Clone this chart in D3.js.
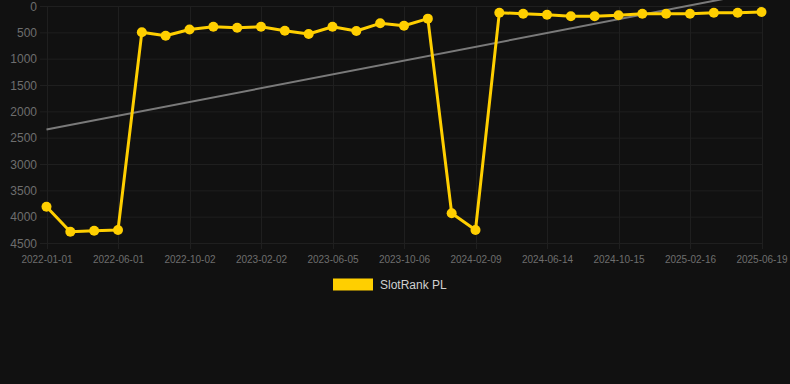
<!DOCTYPE html>
<html><head><meta charset="utf-8">
<script src="https://cdn.jsdelivr.net/npm/d3@7"></script>
<style>html,body{margin:0;padding:0;background:#111111;}svg{display:block;}</style>
</head><body>
<svg id="c" width="790" height="384"></svg>
<script>
const categories = ["2022-01-01","2022-02-20","2022-04-11","2022-06-01","2022-07-12","2022-08-22","2022-10-02","2022-11-12","2022-12-23","2023-02-02","2023-03-15","2023-04-25","2023-06-05","2023-07-16","2023-08-26","2023-10-06","2023-11-17","2023-12-29","2024-02-09","2024-03-21","2024-05-03","2024-06-14","2024-07-25","2024-09-04","2024-10-15","2024-11-25","2025-01-06","2025-02-16","2025-03-29","2025-05-09","2025-06-19"];
const rankValues = [3811,4285,4266,4253,500,564,445,393,412,393,469,532,393,475,329,374,240,3936,4253,127,146,165,196,196,177,146,146,146,127,127,114];
const yTicks = [0,500,1000,1500,2000,2500,3000,3500,4000,4500];
const seriesName = "SlotRank PL";

const svg = d3.select("#c");
const x = d3.scalePoint().domain(categories).range([46.5, 761.5]);
const y = d3.scaleLinear().domain([0, 4500]).range([6, 243]);
const gridColor = "#1f1f1f";
const textColor = "#6e6e6e";
const yellow = "#ffcf00";

// horizontal grid
svg.append("g").selectAll("line").data(yTicks).join("line")
  .attr("x1", 40).attr("x2", 762).attr("y1", d => y(d)+0.5).attr("y2", d => y(d)+0.5)
  .attr("stroke", gridColor).attr("stroke-width", 1);
// vertical grid on labelled categories
const labelled = categories.filter((d,i) => i % 3 === 0);
svg.append("g").selectAll("line").data(labelled).join("line")
  .attr("x1", d => Math.round(x(d))+0.5).attr("x2", d => Math.round(x(d))+0.5)
  .attr("y1", 6).attr("y2", 249)
  .attr("stroke", gridColor).attr("stroke-width", 1);

// y axis labels
const yAxis = d3.axisLeft(y).tickValues(yTicks).tickSize(0).tickPadding(0).tickFormat(d3.format("d"));
const ya = svg.append("g").attr("transform", "translate(37,0)").call(yAxis);
ya.select(".domain").remove();
ya.selectAll("text").attr("fill", textColor).attr("font-family", "Liberation Sans, Arial, sans-serif").attr("font-size", 12).attr("dy", "0.35em");

// x axis labels
const xAxis = d3.axisBottom(x).tickValues(labelled).tickSize(0).tickPadding(0);
const xa = svg.append("g").attr("transform", "translate(0,259.5)").call(xAxis);
xa.select(".domain").remove();
xa.selectAll("text").attr("fill", textColor).attr("font-family", "Liberation Sans, Arial, sans-serif").attr("font-size", 10).attr("dy", "0.35em");

// trend line (least squares over index)
const n = rankValues.length;
const idx = d3.range(n);
const mx = d3.mean(idx), my = d3.mean(rankValues);
const slope = d3.sum(idx, i => (i-mx)*(rankValues[i]-my)) / d3.sum(idx, i => (i-mx)*(i-mx));
const icpt = my - slope*mx;
svg.append("line")
  .attr("x1", x(categories[0])).attr("y1", y(icpt))
  .attr("x2", x(categories[n-1])).attr("y2", y(icpt + slope*(n-1)))
  .attr("stroke", "#7a7a7a").attr("stroke-width", 2);

// series line
const line = d3.line().x((d,i) => x(categories[i])).y(d => y(d));
svg.append("path").datum(rankValues).attr("d", line)
  .attr("fill", "none").attr("stroke", yellow).attr("stroke-width", 3).attr("stroke-linejoin", "round");
svg.append("g").selectAll("circle").data(rankValues).join("circle")
  .attr("cx", (d,i) => x(categories[i])).attr("cy", d => y(d)).attr("r", 5)
  .attr("fill", yellow);

// legend
const lg = svg.append("g");
lg.append("rect").attr("x", 333).attr("y", 278.5).attr("width", 40).attr("height", 12).attr("fill", yellow);
lg.append("text").attr("x", 380).attr("y", 284.5).attr("dy", "0.35em")
  .attr("fill", "#d0d0d0").attr("font-family", "Liberation Sans, Arial, sans-serif").attr("font-size", 12)
  .text(seriesName);
</script>
</body></html>
